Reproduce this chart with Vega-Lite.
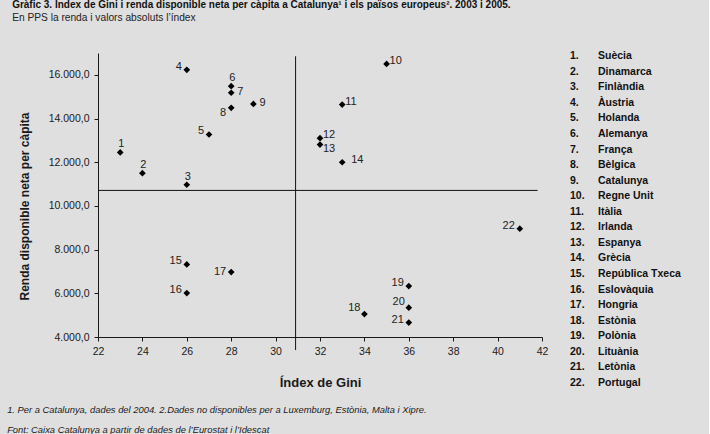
{
  "$schema": "https://vega.github.io/schema/vega-lite/v6.json",
  "background": "#dfdfdf",
  "padding": {"left": 7, "top": 0, "right": 28, "bottom": 0},
  "autosize": {"type": "pad"},
  "title": {
    "text": "Gràfic 3. Índex de Gini i renda disponible neta per càpita a Catalunya¹ i els països europeus². 2003 i 2005.",
    "subtitle": "En  PPS la renda i valors absoluts l’índex",
    "anchor": "start",
    "frame": "bounds",
    "dx": 5,
    "offset": 28,
    "font": "Liberation Sans",
    "fontSize": 10,
    "fontWeight": "bold",
    "color": "#111111",
    "subtitleFont": "Liberation Sans",
    "subtitleFontSize": 10.2,
    "subtitleColor": "#222222",
    "subtitlePadding": 2.5
  },
  "config": {
    "view": {"stroke": null},
    "font": "Liberation Sans",
    "locale": {"number": {"decimal": ",", "thousands": ".", "grouping": [3], "currency": ["", " €"]}},
    "axis": {
      "grid": false,
      "domainColor": "#1a1a1a",
      "tickColor": "#1a1a1a",
      "labelColor": "#1a1a1a",
      "titleColor": "#1a1a1a",
      "labelFont": "Liberation Sans",
      "titleFont": "Liberation Sans",
      "labelFontSize": 10.5,
      "titleFontWeight": "bold"
    }
  },
  "datasets": {
    "countries": [
      {"id": 1, "num": "1.", "name": "Suècia", "gini": 23, "renda": 12450},
      {"id": 2, "num": "2.", "name": "Dinamarca", "gini": 24, "renda": 11500},
      {"id": 3, "num": "3.", "name": "Finlàndia", "gini": 26, "renda": 10970},
      {"id": 4, "num": "4.", "name": "Àustria", "gini": 26, "renda": 16230},
      {"id": 5, "num": "5.", "name": "Holanda", "gini": 27, "renda": 13270},
      {"id": 6, "num": "6.", "name": "Alemanya", "gini": 28, "renda": 15480},
      {"id": 7, "num": "7.", "name": "França", "gini": 28, "renda": 15180},
      {"id": 8, "num": "8.", "name": "Bèlgica", "gini": 28, "renda": 14490},
      {"id": 9, "num": "9.", "name": "Catalunya", "gini": 29, "renda": 14670},
      {"id": 10, "num": "10.", "name": "Regne Unit", "gini": 35, "renda": 16500},
      {"id": 11, "num": "11.", "name": "Itàlia", "gini": 33, "renda": 14640},
      {"id": 12, "num": "12.", "name": "Irlanda", "gini": 32, "renda": 13100},
      {"id": 13, "num": "13.", "name": "Espanya", "gini": 32, "renda": 12810},
      {"id": 14, "num": "14.", "name": "Grècia", "gini": 33, "renda": 12000},
      {"id": 15, "num": "15.", "name": "República Txeca", "gini": 26, "renda": 7320},
      {"id": 16, "num": "16.", "name": "Eslovàquia", "gini": 26, "renda": 6010},
      {"id": 17, "num": "17.", "name": "Hongria", "gini": 28, "renda": 6970},
      {"id": 18, "num": "18.", "name": "Estònia", "gini": 34, "renda": 5050},
      {"id": 19, "num": "19.", "name": "Polònia", "gini": 36, "renda": 6330},
      {"id": 20, "num": "20.", "name": "Lituània", "gini": 36, "renda": 5340},
      {"id": 21, "num": "21.", "name": "Letònia", "gini": 36, "renda": 4660},
      {"id": 22, "num": "22.", "name": "Portugal", "gini": 41, "renda": 8960}
    ]
  },
  "hconcat": [
    {
      "width": 444,
      "height": 284,
      "title": {
        "text": [
          "1. Per a Catalunya, dades del 2004. 2.Dades no disponibles per a Luxemburg, Estònia, Malta i Xipre.",
          "Font: Caixa Catalunya a partir de dades de l’Eurostat i l’Idescat"
        ],
        "orient": "bottom",
        "anchor": "start",
        "frame": "bounds",
        "dx": -11,
        "offset": 16,
        "font": "Liberation Sans",
        "fontStyle": "italic",
        "fontWeight": "normal",
        "fontSize": 9.4,
        "lineHeight": 20,
        "color": "#1a1a1a"
      },
      "layer": [
        {
          "data": {"name": "countries"},
          "mark": {"type": "point", "shape": "diamond", "filled": true, "color": "#000000", "opacity": 1, "size": 45},
          "encoding": {
            "x": {
              "field": "gini", "type": "quantitative",
              "scale": {"domain": [22, 42], "nice": false, "zero": false},
              "axis": {
                "title": "Índex de Gini",
                "values": [22, 24, 26, 28, 30, 32, 34, 36, 38, 40, 42],
                "titleFontSize": 13,
                "titlePadding": 20,
                "tickSize": 4,
                "labelPadding": 5,
                "labelFlush": false
              }
            },
            "y": {
              "field": "renda", "type": "quantitative",
              "scale": {"domain": [4000, 17000], "nice": false, "zero": false},
              "axis": {
                "title": "Renda disponible neta per càpita",
                "values": [4000, 6000, 8000, 10000, 12000, 14000, 16000],
                "format": ",.1f",
                "titleFontSize": 12,
                "titlePadding": 17,
                "titleY": 153,
                "tickSize": 4,
                "labelPadding": 5
              }
            }
          }
        },
        {
          "data": {"values": [{"gini": 30.9, "lo": 3400, "hi": 16850}]},
          "mark": {"type": "rule", "color": "#111111", "strokeWidth": 1},
          "encoding": {
            "x": {"field": "gini", "type": "quantitative"},
            "y": {"field": "lo", "type": "quantitative"},
            "y2": {"field": "hi"}
          }
        },
        {
          "data": {"values": [{"renda": 10710, "lo": 22, "hi": 41.8}]},
          "mark": {"type": "rule", "color": "#111111", "strokeWidth": 1},
          "encoding": {
            "y": {"field": "renda", "type": "quantitative"},
            "x": {"field": "lo", "type": "quantitative"},
            "x2": {"field": "hi"}
          }
        },
        {
          "data": {"name": "countries"},
          "transform": [{"filter": {"field": "id", "oneOf": [1, 2, 3, 6]}}],
          "mark": {"type": "text", "align": "center", "baseline": "middle", "dx": 1, "dy": -8, "fontSize": 11, "color": "#222222"},
          "encoding": {"x": {"field": "gini", "type": "quantitative"}, "y": {"field": "renda", "type": "quantitative"}, "text": {"field": "id", "type": "nominal"}}
        },
        {
          "data": {"name": "countries"},
          "transform": [{"filter": {"field": "id", "oneOf": [4, 5, 15, 16, 19, 21, 22]}}],
          "mark": {"type": "text", "align": "right", "baseline": "middle", "dx": -5, "dy": -3, "fontSize": 11, "color": "#222222"},
          "encoding": {"x": {"field": "gini", "type": "quantitative"}, "y": {"field": "renda", "type": "quantitative"}, "text": {"field": "id", "type": "nominal"}}
        },
        {
          "data": {"name": "countries"},
          "transform": [{"filter": {"field": "id", "oneOf": [18, 20]}}],
          "mark": {"type": "text", "align": "right", "baseline": "middle", "dx": -4, "dy": -6, "fontSize": 11, "color": "#222222"},
          "encoding": {"x": {"field": "gini", "type": "quantitative"}, "y": {"field": "renda", "type": "quantitative"}, "text": {"field": "id", "type": "nominal"}}
        },
        {
          "data": {"name": "countries"},
          "transform": [{"filter": {"field": "id", "oneOf": [17]}}],
          "mark": {"type": "text", "align": "right", "baseline": "middle", "dx": -5, "dy": 0, "fontSize": 11, "color": "#222222"},
          "encoding": {"x": {"field": "gini", "type": "quantitative"}, "y": {"field": "renda", "type": "quantitative"}, "text": {"field": "id", "type": "nominal"}}
        },
        {
          "data": {"name": "countries"},
          "transform": [{"filter": {"field": "id", "oneOf": [8]}}],
          "mark": {"type": "text", "align": "right", "baseline": "middle", "dx": -5, "dy": 5, "fontSize": 11, "color": "#222222"},
          "encoding": {"x": {"field": "gini", "type": "quantitative"}, "y": {"field": "renda", "type": "quantitative"}, "text": {"field": "id", "type": "nominal"}}
        },
        {
          "data": {"name": "countries"},
          "transform": [{"filter": {"field": "id", "oneOf": [7, 9]}}],
          "mark": {"type": "text", "align": "left", "baseline": "middle", "dx": 6, "dy": -1, "fontSize": 11, "color": "#222222"},
          "encoding": {"x": {"field": "gini", "type": "quantitative"}, "y": {"field": "renda", "type": "quantitative"}, "text": {"field": "id", "type": "nominal"}}
        },
        {
          "data": {"name": "countries"},
          "transform": [{"filter": {"field": "id", "oneOf": [14]}}],
          "mark": {"type": "text", "align": "left", "baseline": "middle", "dx": 9, "dy": -2, "fontSize": 11, "color": "#222222"},
          "encoding": {"x": {"field": "gini", "type": "quantitative"}, "y": {"field": "renda", "type": "quantitative"}, "text": {"field": "id", "type": "nominal"}}
        },
        {
          "data": {"name": "countries"},
          "transform": [{"filter": {"field": "id", "oneOf": [10, 11, 12]}}],
          "mark": {"type": "text", "align": "left", "baseline": "middle", "dx": 3, "dy": -3, "fontSize": 11, "color": "#222222"},
          "encoding": {"x": {"field": "gini", "type": "quantitative"}, "y": {"field": "renda", "type": "quantitative"}, "text": {"field": "id", "type": "nominal"}}
        },
        {
          "data": {"name": "countries"},
          "transform": [{"filter": {"field": "id", "oneOf": [13]}}],
          "mark": {"type": "text", "align": "left", "baseline": "middle", "dx": 3, "dy": 4, "fontSize": 11, "color": "#222222"},
          "encoding": {"x": {"field": "gini", "type": "quantitative"}, "y": {"field": "renda", "type": "quantitative"}, "text": {"field": "id", "type": "nominal"}}
        }
      ]
    },
    {
      "width": 28,
      "height": 330,
      "data": {"name": "countries"},
      "transform": [{"fold": ["num", "name"], "as": ["col", "txt"]}],
      "mark": {"type": "text", "align": "left", "baseline": "middle", "fontSize": 10.5, "fontWeight": "bold", "color": "#111111"},
      "encoding": {
        "x": {"field": "col", "type": "nominal", "scale": {"type": "point", "domain": ["num", "name"], "padding": 0}, "axis": null},
        "y": {"field": "id", "type": "quantitative", "scale": {"domain": [0.8, 22], "reverse": true, "nice": false, "zero": false}, "axis": null},
        "text": {"field": "txt", "type": "nominal"}
      }
    }
  ],
  "bounds": "flush",
  "spacing": 28
}
